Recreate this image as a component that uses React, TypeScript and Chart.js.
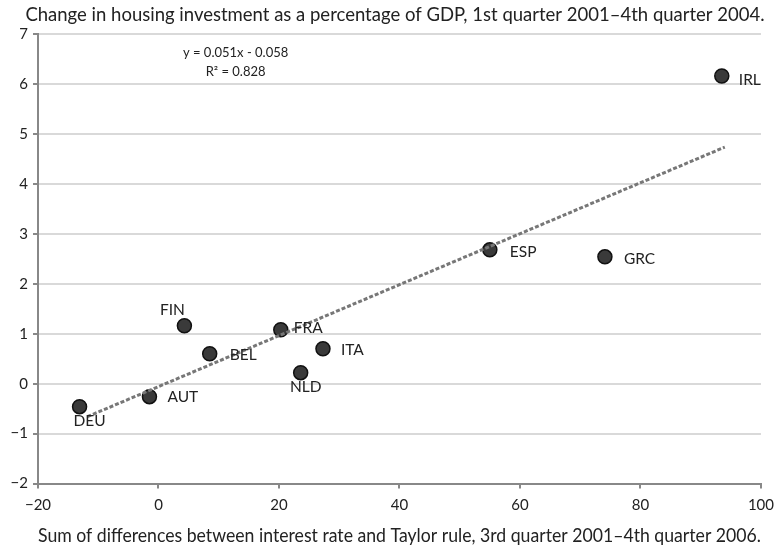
import React, { useEffect, useRef } from "react";
import { Chart, registerables } from "chart.js";

Chart.register(...registerables);

const countries = ["IRL", "ESP", "GRC", "FRA", "ITA", "NLD", "FIN", "BEL", "AUT", "DEU"];
const xValues = [93.5, 55.0, 74.1, 20.3, 27.3, 23.6, 4.3, 8.5, -1.5, -13.1];
const yValues = [6.16, 2.68, 2.54, 1.08, 0.7, 0.22, 1.16, 0.6, -0.26, -0.46];
const trendSlope = 0.051;
const trendIntercept = -0.058;
const trendRange = [-11.8, 94];
const equationLines = ["y = 0.051x - 0.058", "R\u00b2 = 0.828"];
const titleText = "Change in housing investment as a percentage of GDP, 1st quarter 2001\u20134th quarter 2004.";
const xTitleText = "Sum of differences between interest rate and Taylor rule, 3rd quarter 2001\u20134th quarter 2006.";

// label placement (style): [dx, dy, align]
const labelOffsets: Record<string, [number, number, CanvasTextAlign]> = {
  IRL: [17, 4, "left"],
  ESP: [20, 2, "left"],
  GRC: [19, 2, "left"],
  FRA: [13, -2, "left"],
  ITA: [18, 1, "left"],
  NLD: [5, 14, "center"],
  FIN: [-12, -16, "center"],
  BEL: [20, 1, "left"],
  AUT: [18, 0, "left"],
  DEU: [10, 14, "center"],
};

const FONT = "Lato, 'Open Sans', sans-serif";
const fmt = (v: number) => (v < 0 ? "\u2212" + Math.abs(v) : String(v));

export default function App() {
  const ref = useRef<HTMLCanvasElement | null>(null);
  useEffect(() => {
    if (!ref.current) return;
    const labelPlugin = {
      id: "pointLabels",
      afterDraw(chart: any) {
        const ctx = chart.ctx;
        ctx.save();
        ctx.font = `18.5px ${FONT}`;
        ctx.fillStyle = "#222";
        ctx.textAlign = "center";
        ctx.textBaseline = "middle";
        ctx.fillText(titleText, 395, 15);
        ctx.restore();
      },
      afterDatasetsDraw(chart: any) {
        const ctx = chart.ctx;
        const meta = chart.getDatasetMeta(1);
        ctx.save();
        ctx.font = `15.5px ${FONT}`;
        ctx.fillStyle = "#222";
        ctx.textBaseline = "middle";
        meta.data.forEach((el: any, i: number) => {
          const name = countries[i];
          const [dx, dy, al] = labelOffsets[name];
          ctx.textAlign = al;
          ctx.fillText(name, el.x + dx, el.y + dy);
        });
        const xs = chart.scales.x;
        const ys = chart.scales.y;
        ctx.font = `13px ${FONT}`;
        ctx.textAlign = "center";
        const cx = xs.getPixelForValue(12.8);
        ctx.fillText(equationLines[0], cx, ys.getPixelForValue(6.62));
        ctx.fillText(equationLines[1], cx, ys.getPixelForValue(6.24));
        ctx.restore();
      },
    };
    const chart = new Chart(ref.current, {
      type: "scatter",
      data: {
        datasets: [
          {
            type: "line",
            data: trendRange.map((x) => ({ x, y: trendSlope * x + trendIntercept })),
            borderColor: "#777",
            borderWidth: 3,
            borderDash: [4, 2],
            pointRadius: 0,
            fill: false,
          },
          {
            data: xValues.map((x, i) => ({ x, y: yValues[i] })),
            backgroundColor: "#3a3a3a",
            borderColor: "#111",
            borderWidth: 1.5,
            pointRadius: 7,
          },
        ],
      },
      options: {
        animation: false,
        responsive: false,
        layout: { padding: { left: 4, right: 8, top: 34, bottom: 2 } },
        plugins: {
          legend: { display: false },
          tooltip: { enabled: false },
          title: { display: false },
        },
        scales: {
          x: {
            type: "linear",
            min: -20,
            max: 100,
            ticks: {
              stepSize: 20,
              color: "#222",
              font: { family: FONT, size: 15 },
              padding: 8,
              callback: (v: any) => fmt(Number(v)),
              maxRotation: 0,
            },
            grid: { drawOnChartArea: false, drawTicks: true, tickLength: 5, color: "#888", lineWidth: 2 },
            border: { color: "#888", width: 2 },
            title: {
              display: true,
              text: xTitleText,
              color: "#222",
              font: { family: FONT, size: 19.5 },
              padding: { top: 1, bottom: 0 },
            },
          },
          y: {
            type: "linear",
            min: -2,
            max: 7,
            afterFit: (s: any) => {
              s.width = 34;
            },
            ticks: {
              stepSize: 1,
              color: "#222",
              font: { family: FONT, size: 15 },
              padding: 5,
              callback: (v: any) => fmt(Number(v)),
            },
            grid: { color: "#d9d9d9", lineWidth: 2, tickLength: 5, tickColor: "#888" },
            border: { color: "#888", width: 2 },
          },
        },
      },
      plugins: [labelPlugin],
    } as any);
    return () => chart.destroy();
  }, []);
  return (
    <div style={{ position: "fixed", left: 0, top: 0, width: 782, height: 549, background: "#fff" }}>
      <canvas ref={ref} width={782} height={549} style={{ width: 782, height: 549 }} />
    </div>
  );
}
